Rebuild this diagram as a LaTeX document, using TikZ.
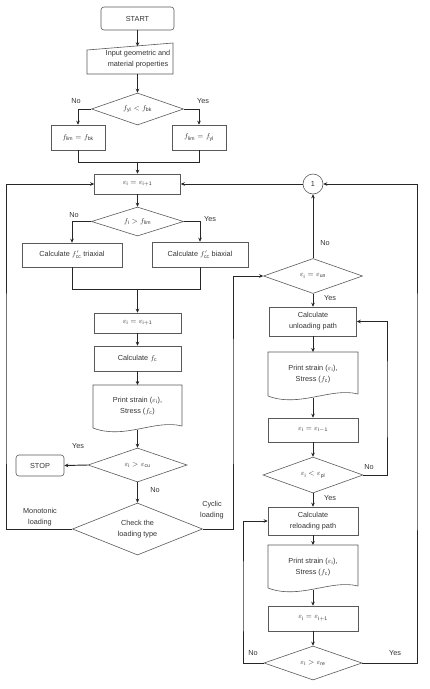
\documentclass[tikz,border=0pt]{standalone}
\usepackage{fontspec}
\setmainfont{Liberation Sans}
\usetikzlibrary{shapes.geometric,arrows.meta,calc}
\newcommand{\docpath}[4]{\draw[shp] (#1,#4) -- (#1,#2) -- (#3,#2) -- (#3,{#4-2}) .. controls ({#3-0.3*(#3-#1)},{#4-9}) and ({#1+0.35*(#3-#1)},{#4+12}) .. (#1,#4);}
\begin{document}
\begin{tikzpicture}[x=1pt,y=-1pt,
  font=\fontsize{7.3}{11}\selectfont,
  txt/.style={text=black!80, align=center, inner sep=0pt},
  shp/.style={draw=black!65, line width=0.6pt},
  box/.style 2 args={shp, rectangle, minimum width=#1, minimum height=#2, text=black!80, align=center, inner sep=1pt},
  rbox/.style 2 args={box={#1}{#2}, rounded corners=3pt},
  dia/.style 2 args={shp, diamond, aspect=2.5, minimum width=#1, minimum height=#2, text=black!80, align=center, inner sep=0pt},
  ln/.style={draw=black!85, line width=0.95pt},
  arr/.style={ln, -{Stealth[length=4pt,width=3.6pt]}}
]
\useasboundingbox (0,0) rectangle (429,689);
% ---------- left column ----------
\node[rbox={73pt}{23pt}] (start) at (137.5,18.5) {START};
\draw[shp] (87,50) -- (173,43) -- (173,74) -- (87,74) -- cycle;
\node[txt] (input) at (138,59) {Input geometric and\\material properties};
\coordinate (inTop) at (137.5,46.3);
\coordinate (inBot) at (137.5,74);
\node[dia={92pt}{32pt}] (d1) at (137.5,109) {$f_{\mathrm{yl}}<f_{\mathrm{bk}}$};
\node[box={54pt}{25pt}] (fb1) at (78,137.5) {$f_{\mathrm{lim}}=f_{\mathrm{bk}}$};
\node[box={54pt}{25pt}] (fb2) at (199,137.5) {$f_{\mathrm{lim}}=f_{\mathrm{yl}}$};
\coordinate (j1) at (137.5,162);
\node[box={86pt}{20pt}] (e1) at (137.5,184) {$\varepsilon_{\mathrm{i}}=\varepsilon_{\mathrm{i+1}}$};
\node[dia={92pt}{29pt}] (d2) at (137.5,221.5) {$f_{\mathrm{i}}>f_{\mathrm{lim}}$};
\node[box={100pt}{24pt}] (c1) at (72,255) {Calculate $f'_{\mathrm{cc}}$ triaxial};
\node[box={96pt}{25pt}] (c2) at (200,254.5) {Calculate $f'_{\mathrm{cc}}$ biaxial};
\coordinate (j2) at (137.5,289);
\node[box={87pt}{20pt}] (e2) at (137.5,323) {$\varepsilon_{\mathrm{i}}=\varepsilon_{\mathrm{i+1}}$};
\node[box={87pt}{25pt}] (cf) at (137.5,358.5) {Calculate $f_{\mathrm{c}}$};
\docpath{93}{385}{182}{428}
\node[txt] (pr1) at (137.5,406) {Print strain ($\varepsilon_{\mathrm{i}}$),\\Stress ($f_{\mathrm{c}}$)};
\coordinate (pr1t) at (137.5,385);
\coordinate (pr1b) at (137.5,430);
\node[dia={99pt}{34pt}] (d3) at (137.5,465) {$\varepsilon_{\mathrm{i}}>\varepsilon_{\mathrm{cu}}$};
\node[rbox={48pt}{21pt}] (stop) at (40,465.5) {STOP};
\node[dia={130pt}{52pt}] (d4) at (137.5,529) {Check the\\loading type};
% ---------- right column ----------
\node[shp, circle, minimum size=20pt, inner sep=0pt, text=black!80] (circ) at (313,184) {1};
\node[dia={99pt}{35pt}] (d5) at (313,276) {$\varepsilon_{\mathrm{i}}=\varepsilon_{\mathrm{un}}$};
\node[box={87pt}{29pt}] (un) at (313,321.5) {Calculate\\unloading path};
\docpath{268}{352}{358}{396}
\node[txt] (pr2) at (313,374) {Print strain ($\varepsilon_{\mathrm{i}}$),\\Stress ($f_{\mathrm{c}}$)};
\coordinate (pr2t) at (313,352);
\coordinate (pr2b) at (313,398);
\node[box={90pt}{24pt}] (e3) at (313,430) {$\varepsilon_{\mathrm{i}}=\varepsilon_{\mathrm{i-1}}$};
\node[dia={100pt}{36pt}] (d6) at (313,475) {$\varepsilon_{\mathrm{i}}<\varepsilon_{\mathrm{pl}}$};
\node[box={90pt}{28pt}] (re) at (313,521) {Calculate\\reloading path};
\docpath{268}{545}{358}{588}
\node[txt] (pr3) at (313,567) {Print strain ($\varepsilon_{\mathrm{i}}$),\\Stress ($f_{\mathrm{c}}$)};
\coordinate (pr3t) at (313,545);
\coordinate (pr3b) at (313,590);
\node[box={90pt}{25pt}] (e4) at (313,618.5) {$\varepsilon_{\mathrm{i}}=\varepsilon_{\mathrm{i+1}}$};
\node[dia={98pt}{34pt}] (d7) at (313,663) {$\varepsilon_{\mathrm{i}}>\varepsilon_{\mathrm{re}}$};
% ---------- labels ----------
\node[txt] (l1n) at (76,101) {No};
\node[txt] (l1y) at (203,101) {Yes};
\node[txt] (l2n) at (74,215) {No};
\node[txt] (l2y) at (210,219) {Yes};
\node[txt] (l3y) at (78,446) {Yes};
\node[txt] (l3n) at (155,490) {No};
\node[txt] (l4m) at (40,517) {Monotonic\\loading};
\node[txt] (l4c) at (212,510) {Cyclic\\loading};
\node[txt] (l5n) at (325,243) {No};
\node[txt] (l5y) at (330,298) {Yes};
\node[txt] (l6n) at (369,467) {No};
\node[txt] (l6y) at (330,498) {Yes};
\node[txt] (l7n) at (253,653) {No};
\node[txt] (l7y) at (395,653) {Yes};
% ---------- connectors ----------
\coordinate (mx) at (6,400);
\coordinate (cx) at (233,400);
\coordinate (rx) at (417,400);
\coordinate (nx) at (387,400);
\coordinate (lx) at (243,600);
\draw[arr] (start) -- (inTop);
\draw[arr] (inBot) -- (d1);
\draw[arr] (d1.west) -| (fb1.north);
\draw[arr] (d1.east) -| (fb2.north);
\draw[ln] (fb1.south) |- (j1);
\draw[ln] (fb2.south) |- (j1);
\draw[arr] (j1) -- (e1);
\draw[arr] (e1) -- (d2);
\draw[arr] (d2.west) -| (c1.north);
\draw[arr] (d2.east) -| (c2.north);
\draw[ln] (c1.south) |- (j2);
\draw[ln] (c2.south) |- (j2);
\draw[arr] (j2) -- (e2);
\draw[arr] (e2) -- (cf);
\draw[arr] (cf) -- (pr1t);
\draw[arr] (pr1b) -- (d3);
\draw[arr] (d3.west) -- (stop.east);
\draw[arr] (d3) -- (d4);
\draw[arr] (d4.west) -| (mx) |- (e1.west);
\draw[arr] (d4.east) -| (cx) |- (d5.west);
\draw[arr] (d5) -- (circ);
\draw[arr] (circ) -- (e1.east);
\draw[arr] (d5) -- (un);
\draw[arr] (un) -- (pr2t);
\draw[arr] (pr2b) -- (e3);
\draw[arr] (e3) -- (d6);
\draw[arr] (d6.east) -| (nx) |- (un.east);
\draw[arr] (d6) -- (re);
\draw[arr] (re) -- (pr3t);
\draw[arr] (pr3b) -- (e4);
\draw[arr] (e4) -- (d7);
\draw[arr] (d7.west) -| (lx) |- (re.west);
\draw[arr] (d7.east) -| (rx) |- (circ.east);
\end{tikzpicture}
\end{document}
